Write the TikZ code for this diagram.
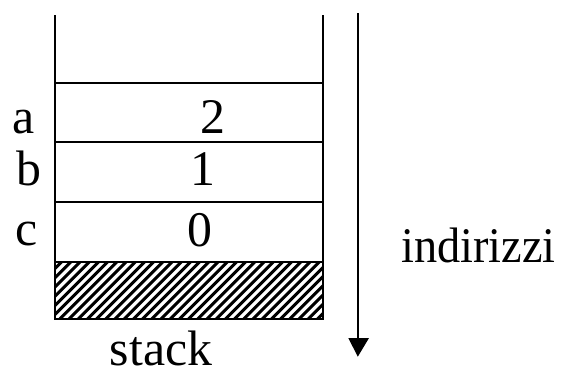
\documentclass[tikz,border=0pt]{standalone}
\usepackage{fontspec}
\setmainfont{Liberation Serif}
\begin{document}
\begin{tikzpicture}[x=1bp,y=-1bp,
  lbl/.style={inner sep=0pt,anchor=base,font=\fontsize{50}{60}\selectfont},
  wall/.style={line width=2bp},
  arr/.style={line width=1.7bp}]
\useasboundingbox (0,0) rectangle (564,367);
% walls and cells
\coordinate (tl) at (55.3,15);
\coordinate (tr) at (322.8,15);
\coordinate (bl) at (55.3,319.3);
\coordinate (br) at (322.8,319.3);
\begin{scope}
\clip (55.3,261.7) rectangle (322.8,319.3);
\foreach \k in {-70,-60.8,...,330} {
  \draw[line width=3bp] (\k,320) -- (\k+59,261);
}
\end{scope}
\draw[wall] (tl) -- (bl) -- (br) -- (tr);
\foreach \y in {83.3,141.5,201.5,261.7} {
  \draw[wall] (55.3,\y) -- (322.8,\y);
}
% labels
\node[lbl] (la) at (24,133) {a};
\node[lbl] (lb) at (28.5,185) {b};
\node[lbl] (lc) at (27,245) {c};
\node[lbl] (v2) at (213,133) {2};
\node[lbl] (v1) at (203,185) {1};
\node[lbl] (v0) at (200,246) {0};
\node[lbl] (stk) at (161,365) {stack};
\node[lbl,anchor=base west,xscale=0.93] (ind) at (401,262) {indirizzi};
% arrow
\coordinate (atop) at (357.8,13.3);
\coordinate (abot) at (357.8,356.7);
\draw[arr] (atop) -- (357.8,340);
\fill (348.3,338) -- (369,338) -- (abot) -- cycle;
\end{tikzpicture}
\end{document}
